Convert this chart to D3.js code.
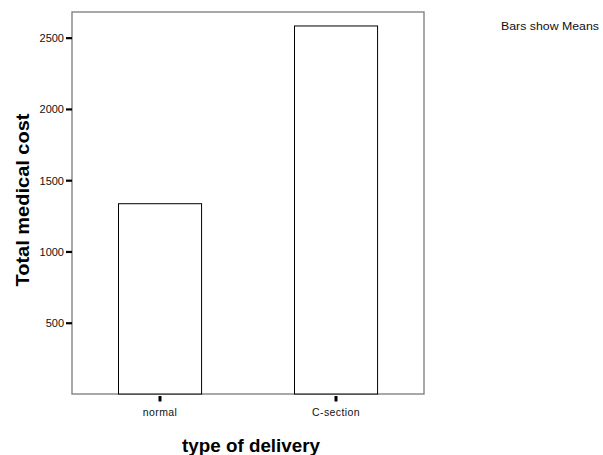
<!DOCTYPE html>
<html>
<head>
<meta charset="utf-8">
<script src="https://cdn.jsdelivr.net/npm/d3@7"></script>
<style>
  html, body { margin: 0; padding: 0; background: #fff; }
  svg { display: block; font-family: "Liberation Sans", Arial, sans-serif; }
</style>
</head>
<body>
<svg id="chart" width="603" height="455"></svg>
<script>
const categories = ["normal", "C-section"];
const meanCost = [1335, 2582];
const yTicks = [500, 1000, 1500, 2000, 2500];
const yTickLabels = ["500", "1000", "1500", "2000", "2500"];
const yTitle = "Total medical cost";
const xTitle = "type of delivery";
const note = "Bars show Means";

(function () {
const svg = d3.select("#chart");
const pL = 72, pR = 424, pT = 12, pB = 394;

const x = d3.scaleBand().domain(categories).range([pL, pR])
  .paddingInner(0.528).paddingOuter(0.264);
const y = d3.scaleLinear().domain([0, 2680]).range([pB, pT]);

// frame
svg.append("rect")
  .attr("x", pL).attr("y", pT)
  .attr("width", pR - pL).attr("height", pB - pT)
  .attr("fill", "#fff").attr("stroke", "#7a7a7a").attr("stroke-width", 1.3);

// bars
svg.append("g").selectAll("rect")
  .data(categories.map((c, i) => ({ c, v: meanCost[i] })))
  .join("rect")
  .attr("x", d => Math.round(x(d.c)) + 0.5)
  .attr("y", d => y(d.v))
  .attr("width", x.bandwidth())
  .attr("height", d => y(0) - y(d.v))
  .attr("fill", "#fff")
  .attr("stroke", "#000")
  .attr("stroke-width", 1);

// y axis
const yAxis = svg.append("g")
  .attr("transform", `translate(${pL},0)`)
  .call(d3.axisLeft(y).tickValues(yTicks)
    .tickFormat((d, i) => yTickLabels[i]).tickSize(6).tickPadding(2));
yAxis.select(".domain").remove();
yAxis.selectAll(".tick line").attr("stroke", "#000").attr("stroke-width", 2.2);
yAxis.selectAll(".tick text")
  .attr("fill", "#111")
  .style("font-size", "11px")
  .attr("dy", "0.36em");

// x axis
const xAxis = svg.append("g")
  .attr("transform", `translate(0,${pB + 2})`)
  .call(d3.axisBottom(x).tickSize(5.5).tickPadding(7));
xAxis.select(".domain").remove();
xAxis.selectAll(".tick line").attr("stroke", "#000").attr("stroke-width", 3);
xAxis.selectAll(".tick text")
  .attr("fill", "#111")
  .style("font-size", "10.5px")
  .style("letter-spacing", "0.4px");

// titles
svg.append("text")
  .attr("transform", "translate(28.5,200) rotate(-90)")
  .attr("text-anchor", "middle")
  .style("font-size", "18px").style("font-weight", "bold")
  .attr("fill", "#000")
  .attr("textLength", 173).attr("lengthAdjust", "spacingAndGlyphs")
  .text(yTitle);

svg.append("text")
  .attr("x", 251).attr("y", 451.5)
  .attr("text-anchor", "middle")
  .style("font-size", "18px").style("font-weight", "bold")
  .attr("fill", "#000")
  .attr("textLength", 138).attr("lengthAdjust", "spacingAndGlyphs")
  .text(xTitle);

svg.append("text")
  .attr("x", 501).attr("y", 29.5)
  .style("font-size", "11px")
  .attr("fill", "#111")
  .attr("textLength", 98).attr("lengthAdjust", "spacingAndGlyphs")
  .text(note);
})();
</script>
</body>
</html>
